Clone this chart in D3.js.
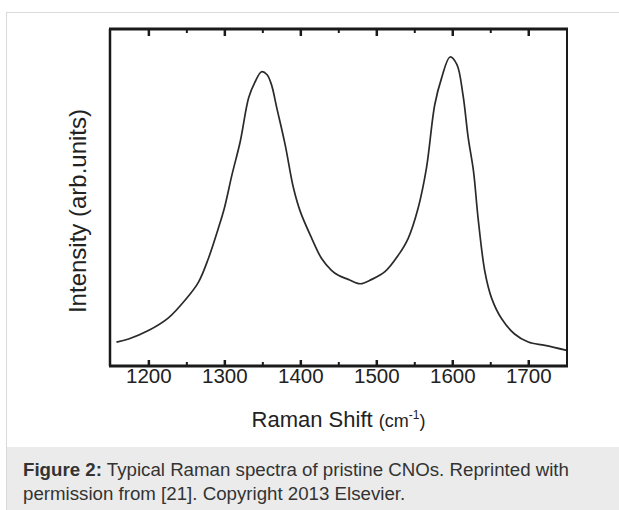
<!DOCTYPE html>
<html>
<head>
<meta charset="utf-8">
<script src="https://cdn.jsdelivr.net/npm/d3@7"></script>
<style>
  html, body { margin: 0; padding: 0; background: #fff; }
  svg { display: block; font-family: "Liberation Sans", Arial, sans-serif; }
</style>
</head>
<body>
<svg id="chart" width="619" height="510"></svg>
<script>
// Raman shift (cm^-1) sampled along the spectrum
const ramanShift = [1158, 1174, 1200, 1226, 1250, 1266, 1279, 1292, 1300, 1310, 1321, 1332, 1340, 1349,
  1356, 1362, 1369, 1380, 1391, 1400, 1415, 1428, 1441, 1450, 1463, 1479, 1494, 1511, 1529, 1542, 1555,
  1566, 1577, 1586, 1597, 1606, 1614, 1621, 1628, 1634, 1643, 1652, 1665, 1682, 1700, 1722, 1751];
// Intensity (arbitrary units)
const intensity = [71, 80, 105, 142, 200, 249, 319, 408, 468, 567, 667, 796, 841, 873,
  865, 835, 766, 657, 528, 458, 379, 319, 284, 269, 257, 244, 257, 279, 329, 379, 468,
  587, 776, 855, 917, 895, 806, 677, 577, 438, 279, 200, 140, 95, 71, 61, 46];
const xTicksMajor = [1200, 1300, 1400, 1500, 1600, 1700];
const xTicksMinor = [1250, 1350, 1450, 1550, 1650];
const xDomain = [1149.5, 1751];
const yDomain = [0, 1000];
const xTitle = "Raman Shift";
const yTitle = "Intensity (arb.units)";
const captionBold = "Figure 2:";
const captionLine1 = " Typical Raman spectra of pristine CNOs. Reprinted with";
const captionLine2 = "permission from [21]. Copyright 2013 Elsevier.";

const svg = d3.select("#chart");
const W = 619, H = 510;
const L = 110, R = 567, T = 29, B = 366;

// outer frame + caption background
svg.append("rect").attr("x", 6.5).attr("y", 12.5).attr("width", W).attr("height", H)
  .attr("fill", "#fff").attr("stroke", "#d9d9d9").attr("stroke-width", 1);
svg.append("rect").attr("x", 7).attr("y", 447).attr("width", W - 7).attr("height", H - 447)
  .attr("fill", "#ebebeb");

const x = d3.scaleLinear().domain(xDomain).range([L, R]);
const y = d3.scaleLinear().domain(yDomain).range([B, T]);

const data = ramanShift.map((d, i) => ({ x: d, y: intensity[i] }));

svg.append("defs").append("clipPath").attr("id", "clip")
  .append("rect").attr("x", L).attr("y", T).attr("width", R - L).attr("height", B - T);

const line = d3.line().x(d => x(d.x)).y(d => y(d.y)).curve(d3.curveCatmullRom.alpha(0.5));
svg.append("path").datum(data).attr("clip-path", "url(#clip)")
  .attr("d", line).attr("fill", "none").attr("stroke", "#2a2a2a").attr("stroke-width", 1.7);

// bottom axis (ticks inward)
const gB = svg.append("g").attr("transform", `translate(0,${B})`)
  .call(d3.axisBottom(x).tickValues(xTicksMajor).tickSize(-6).tickPadding(15).tickFormat(d3.format("d")));
gB.select(".domain").remove();
gB.selectAll(".tick line").attr("stroke", "#1a1a1a").attr("stroke-width", 2.5);
gB.selectAll(".tick text").attr("font-size", "20.5px").attr("fill", "#222")
  .attr("font-family", "Liberation Sans, Arial, sans-serif").attr("dy", "0.1em");
const gBm = svg.append("g").attr("transform", `translate(0,${B})`)
  .call(d3.axisBottom(x).tickValues(xTicksMinor).tickSize(-4).tickFormat(""));
gBm.select(".domain").remove();
gBm.selectAll(".tick line").attr("stroke", "#1a1a1a").attr("stroke-width", 2);

// top axis (ticks inward)
const gT = svg.append("g").attr("transform", `translate(0,${T})`)
  .call(d3.axisTop(x).tickValues(xTicksMajor).tickSize(-7).tickFormat(""));
gT.select(".domain").remove();
gT.selectAll(".tick line").attr("stroke", "#1a1a1a").attr("stroke-width", 2.5);
const gTm = svg.append("g").attr("transform", `translate(0,${T})`)
  .call(d3.axisTop(x).tickValues(xTicksMinor).tickSize(-4).tickFormat(""));
gTm.select(".domain").remove();
gTm.selectAll(".tick line").attr("stroke", "#1a1a1a").attr("stroke-width", 2);

// frame
svg.append("line").attr("x1", L - 1).attr("x2", R + 1).attr("y1", T).attr("y2", T).attr("stroke", "#1a1a1a").attr("stroke-width", 3);
svg.append("line").attr("x1", L - 1).attr("x2", R + 1).attr("y1", B).attr("y2", B).attr("stroke", "#1a1a1a").attr("stroke-width", 3);
svg.append("line").attr("x1", L).attr("x2", L).attr("y1", T).attr("y2", B).attr("stroke", "#1a1a1a").attr("stroke-width", 2.5);
svg.append("line").attr("x1", R).attr("x2", R).attr("y1", T).attr("y2", B).attr("stroke", "#1a1a1a").attr("stroke-width", 2);

// x title
const xt = svg.append("text").attr("x", (L + R) / 2).attr("y", 427).attr("text-anchor", "middle")
  .attr("fill", "#222").attr("font-size", "22px");
xt.append("tspan").text(xTitle + " ");
xt.append("tspan").attr("font-size", "18px").text("(cm");
xt.append("tspan").attr("font-size", "12px").attr("dy", "-8").text("-1");
xt.append("tspan").attr("font-size", "18px").attr("dy", "8").text(")");

// y title
svg.append("text").attr("transform", "translate(86,211) rotate(-90)").attr("text-anchor", "middle")
  .attr("fill", "#222").attr("font-size", "24px").text(yTitle);

// caption
const c1 = svg.append("text").attr("x", 23).attr("y", 476).attr("fill", "#333").attr("font-size", "18.7px");
c1.append("tspan").attr("font-weight", "bold").text(captionBold);
c1.append("tspan").text(captionLine1);
svg.append("text").attr("x", 23).attr("y", 500).attr("fill", "#333").attr("font-size", "18.7px").text(captionLine2);
</script>
</body>
</html>
